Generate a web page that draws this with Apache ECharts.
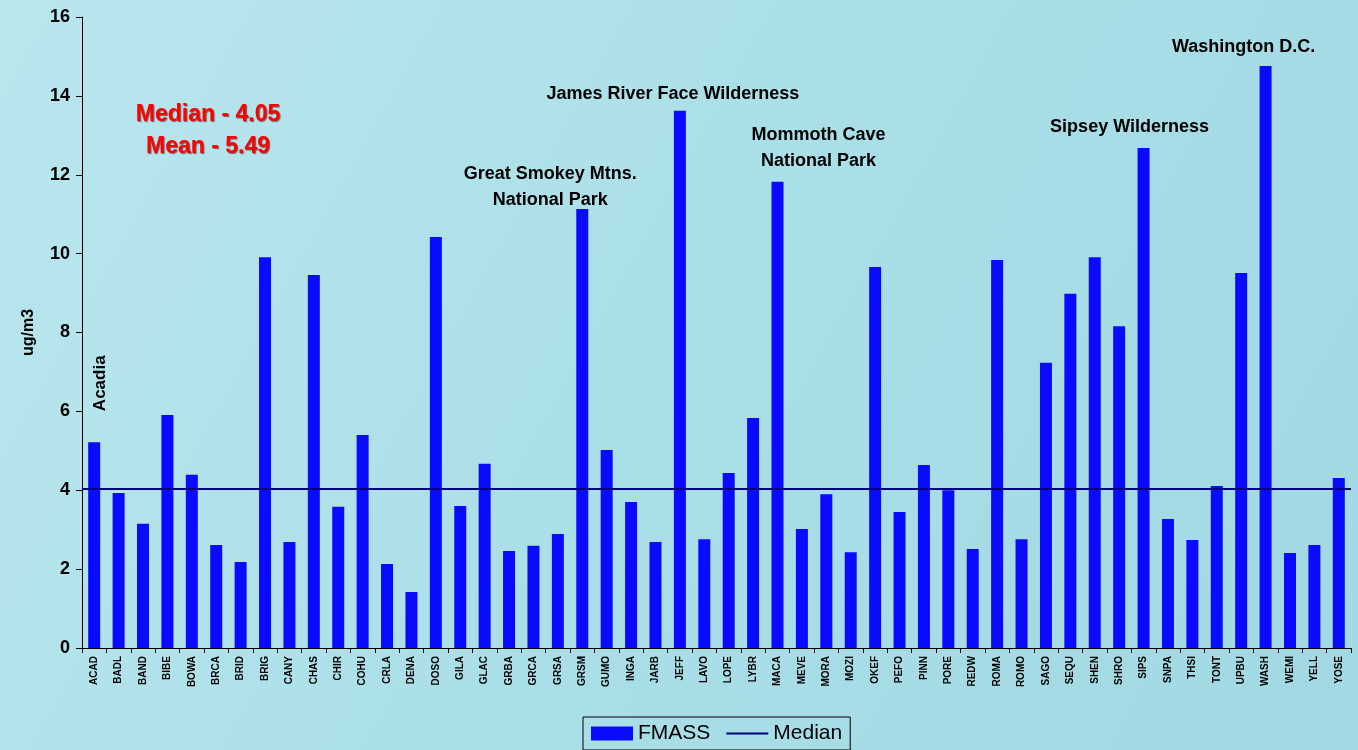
<!DOCTYPE html>
<html>
<head>
<meta charset="utf-8">
<script src="https://cdn.jsdelivr.net/npm/echarts@6/dist/echarts.min.js"></script>
<style>
  html, body { margin: 0; padding: 0; }
  #chart { width: 1358px; height: 750px; }
</style>
</head>
<body>
<div id="chart"></div>
<script>
const sites = ['ACAD', 'BADL', 'BAND', 'BIBE', 'BOWA', 'BRCA', 'BRID', 'BRIG', 'CANY', 'CHAS',
  'CHIR', 'COHU', 'CRLA', 'DENA', 'DOSO', 'GILA', 'GLAC', 'GRBA', 'GRCA', 'GRSA',
  'GRSM', 'GUMO', 'INGA', 'JARB', 'JEFF', 'LAVO', 'LOPE', 'LYBR', 'MACA', 'MEVE',
  'MORA', 'MOZI', 'OKEF', 'PEFO', 'PINN', 'PORE', 'REDW', 'ROMA', 'ROMO', 'SAGO',
  'SEQU', 'SHEN', 'SHRO', 'SIPS', 'SNPA', 'THSI', 'TONT', 'UPBU', 'WASH', 'WEMI',
  'YELL', 'YOSE'];

const fmass = [5.22, 3.93, 3.15, 5.91, 4.39, 2.61, 2.18, 9.91, 2.69, 9.46,
  3.58, 5.40, 2.13, 1.42, 10.42, 3.60, 4.67, 2.46, 2.59, 2.89,
  11.13, 5.02, 3.70, 2.69, 13.62, 2.76, 4.44, 5.83, 11.82, 3.02,
  3.90, 2.43, 9.66, 3.45, 4.64, 4.00, 2.51, 9.84, 2.76, 7.23,
  8.98, 9.91, 8.16, 12.68, 3.27, 2.74, 4.11, 9.51, 14.76, 2.41,
  2.61, 4.31];

const medianValue = 4.05;
const meanValue = 5.49;

// site code -> annotation text
const siteNotes = {
  GRSM: 'Great Smokey Mtns.\nNational Park',
  JEFF: 'James River Face Wilderness',
  MACA: 'Mommoth Cave\nNational Park',
  SIPS: 'Sipsey Wilderness',
  WASH: 'Washington D.C.'
};

const noteOffsets = {
  GRSM: [-32, 9],
  JEFF: [-7, 1],
  MACA: [41, -3],
  SIPS: [-14, -3],
  WASH: [-22, -1]
};

const chart = echarts.init(document.getElementById('chart'));

const barData = fmass.map((v, i) => {
  const code = sites[i];
  if (siteNotes[code]) {
    return {
      value: v,
      label: {
        show: true,
        position: 'top',
        formatter: siteNotes[code],
        offset: noteOffsets[code],
        fontFamily: 'Liberation Sans',
        fontWeight: 'bold',
        fontSize: 18,
        lineHeight: 26,
        color: '#000'
      }
    };
  }
  if (code === 'ACAD') {
    // rotated label: offset is in the rotated frame
    return {
      value: v,
      label: {
        show: true,
        position: 'top',
        formatter: 'Acadia',
        rotate: 90,
        align: 'left',
        verticalAlign: 'middle',
        offset: [26, 6],
        fontFamily: 'Liberation Sans',
        fontWeight: 'bold',
        fontSize: 17,
        color: '#000'
      }
    };
  }
  return v;
});

const option = {
  backgroundColor: {
    type: 'linear', x: 0, y: 0, x2: 1, y2: 1,
    colorStops: [
      { offset: 0, color: '#bae6ee' },
      { offset: 0.5, color: '#aadfe8' },
      { offset: 1, color: '#a2d8e3' }
    ]
  },
  animation: false,
  grid: { left: 82, right: 7, top: 17, bottom: 102 },
  legend: {
    bottom: 0,
    left: 583,
    data: [
      { name: 'FMASS', icon: 'rect' },
      { name: 'Median', icon: 'path://M0,6 L42,6 L42,8 L0,8 Z' }
    ],
    itemWidth: 42,
    itemHeight: 14,
    itemGap: 16,
    padding: [6, 8, 6, 8],
    borderColor: '#000',
    borderWidth: 1,
    textStyle: { fontFamily: 'Liberation Sans', fontSize: 21, color: '#000' }
  },
  graphic: [
    {
      type: 'text',
      x: 208,
      y: 99,
      style: {
        text: 'Median - ' + medianValue.toFixed(2) + '\nMean - ' + meanValue.toFixed(2),
        fill: '#ff0000',
        font: 'bold 23px "Liberation Sans"',
        lineHeight: 32,
        align: 'center',
        textShadowColor: 'rgba(80,0,0,0.6)',
        textShadowBlur: 1,
        textShadowOffsetX: 1,
        textShadowOffsetY: 1
      }
    }
  ],
  xAxis: {
    type: 'category',
    data: sites,
    axisLine: { lineStyle: { color: '#000', width: 1 } },
    axisTick: { show: true, alignWithLabel: false, length: 5, lineStyle: { color: '#000' } },
    axisLabel: {
      interval: 0,
      rotate: 90,
      fontFamily: 'Liberation Sans',
      fontWeight: 'bold',
      fontSize: 10,
      color: '#000',
      margin: 8
    }
  },
  yAxis: {
    type: 'value',
    min: 0,
    max: 16,
    interval: 2,
    name: 'ug/m3',
    nameLocation: 'middle',
    nameGap: 45,
    nameTextStyle: { fontFamily: 'Liberation Sans', fontWeight: 'bold', fontSize: 16, color: '#000' },
    axisLine: { show: true, lineStyle: { color: '#000' } },
    axisTick: { show: true, length: 6, lineStyle: { color: '#000' } },
    splitLine: { show: false },
    axisLabel: {
      fontFamily: 'Liberation Sans',
      fontWeight: 'bold',
      fontSize: 18,
      color: '#000',
      margin: 12
    }
  },
  series: [
    {
      name: 'FMASS',
      type: 'bar',
      data: barData,
      barWidth: 12,
      itemStyle: { color: '#0a0aff' }
    },
    {
      name: 'Median',
      type: 'line',
      data: [],
      symbol: 'none',
      itemStyle: { color: '#000080' },
      lineStyle: { color: '#000080', width: 2 },
      markLine: {
        silent: true,
        symbol: 'none',
        label: { show: false },
        lineStyle: { color: '#000080', width: 2, type: 'solid' },
        data: [{ yAxis: medianValue }]
      }
    }
  ]
};

chart.setOption(option);
</script>
</body>
</html>
